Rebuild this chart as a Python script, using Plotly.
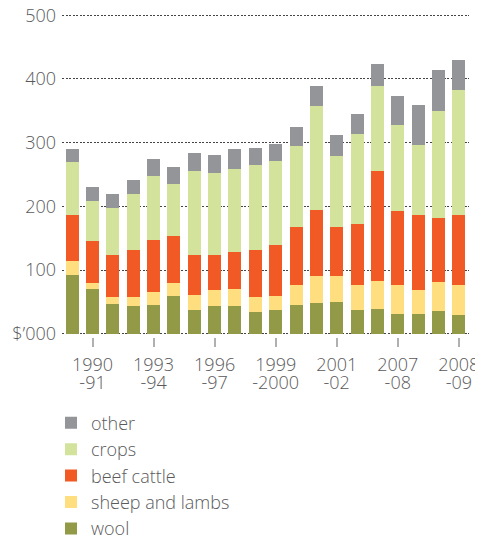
import plotly.graph_objects as go

# 20 seasons, one bar each (as drawn in the source)
bars = list(range(20))
tick_pos = [1, 4, 7, 10, 13, 16, 19]
tick_years = ["1990", "1993", "1996", "1999", "2001", "2007", "2008"]
tick_ends = ["-91", "-94", "-97", "-2000", "-02", "-08", "-09"]

# $'000 per farm, segment values (bottom to top)
wool = [93, 71, 47, 43, 46, 60, 38, 44, 43, 35, 38, 46, 49, 50, 38, 39, 31, 31, 36, 30]
sheep_lambs = [22, 9, 11, 15, 19, 19, 23, 25, 28, 23, 22, 30, 42, 40, 39, 44, 45, 38, 46, 46]
beef_cattle = [71, 66, 66, 73, 83, 75, 62, 55, 58, 74, 80, 91, 104, 78, 95, 172, 116, 117, 99, 110]
crops = [83, 62, 74, 89, 99, 81, 132, 128, 129, 133, 131, 127, 162, 111, 141, 134, 136, 110, 169, 197]
other = [21, 22, 22, 22, 27, 26, 28, 28, 32, 26, 27, 30, 32, 33, 32, 35, 45, 63, 64, 47]

y_ticks = [0, 100, 200, 300, 400, 500]
y_labels = ["$\u2019000", "100", "200", "300", "400", "500"]

series = [
    ("wool", wool, "#929a48"),
    ("sheep and lambs", sheep_lambs, "#fede7e"),
    ("beef cattle", beef_cattle, "#f15a24"),
    ("crops", crops, "#d3e39b"),
    ("other", other, "#939598"),
]

TEXT = "#5a5a5c"
FONT = "Open Sans"
tfont = dict(family=FONT, size=18, color=TEXT, weight=300)

fig = go.Figure()
for i, (name, vals, col) in enumerate(series):
    fig.add_trace(go.Bar(
        x=bars, y=vals, name=name,
        marker=dict(color=col, line=dict(width=0)),
        legendgroup=name,
        legendrank=len(series) - i,  # legend top = "other"
    ))

# empty trace so the second x axis (second label line) gets drawn
fig.add_trace(go.Bar(x=[], y=[], xaxis="x2", yaxis="y",
                     showlegend=False, hoverinfo="skip"))

# page body has an 8px margin, so the figure is 8px smaller than the window
fig.update_layout(
    width=475, height=535,
    margin=dict(l=54, r=14, t=4, b=206, autoexpand=False),
    barmode="stack",
    bargap=0.36,
    plot_bgcolor="white",
    paper_bgcolor="white",
    font=tfont,
    showlegend=True,
    legend=dict(
        traceorder="grouped",
        tracegroupgap=0,
        x=-0.027, xanchor="left",
        y=-0.208, yanchor="top",
        font=tfont,
        bgcolor="rgba(0,0,0,0)",
    ),
    xaxis=dict(
        range=[-0.5, 19.5],
        tickmode="array", tickvals=tick_pos, ticktext=tick_years,
        ticks="outside", ticklen=9, tickwidth=1.5, tickcolor="#b0b0b0",
        showgrid=False, zeroline=False, showline=False,
        ticklabelstandoff=2, ticklabeloverflow="allow",
        tickfont=tfont,
    ),
    # second line of the season labels ("-91" etc.)
    xaxis2=dict(
        range=[-0.5, 19.5], overlaying="x", anchor="y", side="bottom",
        tickmode="array", tickvals=tick_pos, ticktext=tick_ends,
        ticks="outside", ticklen=9, tickcolor="rgba(0,0,0,0)",
        showgrid=False, zeroline=False, showline=False,
        ticklabelstandoff=20, ticklabeloverflow="allow",
        tickfont=tfont,
    ),
    yaxis=dict(
        range=[-5, 505],
        tickmode="array", tickvals=y_ticks, ticktext=y_labels,
        showgrid=True, gridcolor="#444444", gridwidth=1, griddash="2px,1.5px",
        zeroline=False, showline=False, ticks="",
        ticklabelstandoff=5, ticklabeloverflow="allow",
        tickfont=tfont,
    ),
)

fig.write_html("out.html")
